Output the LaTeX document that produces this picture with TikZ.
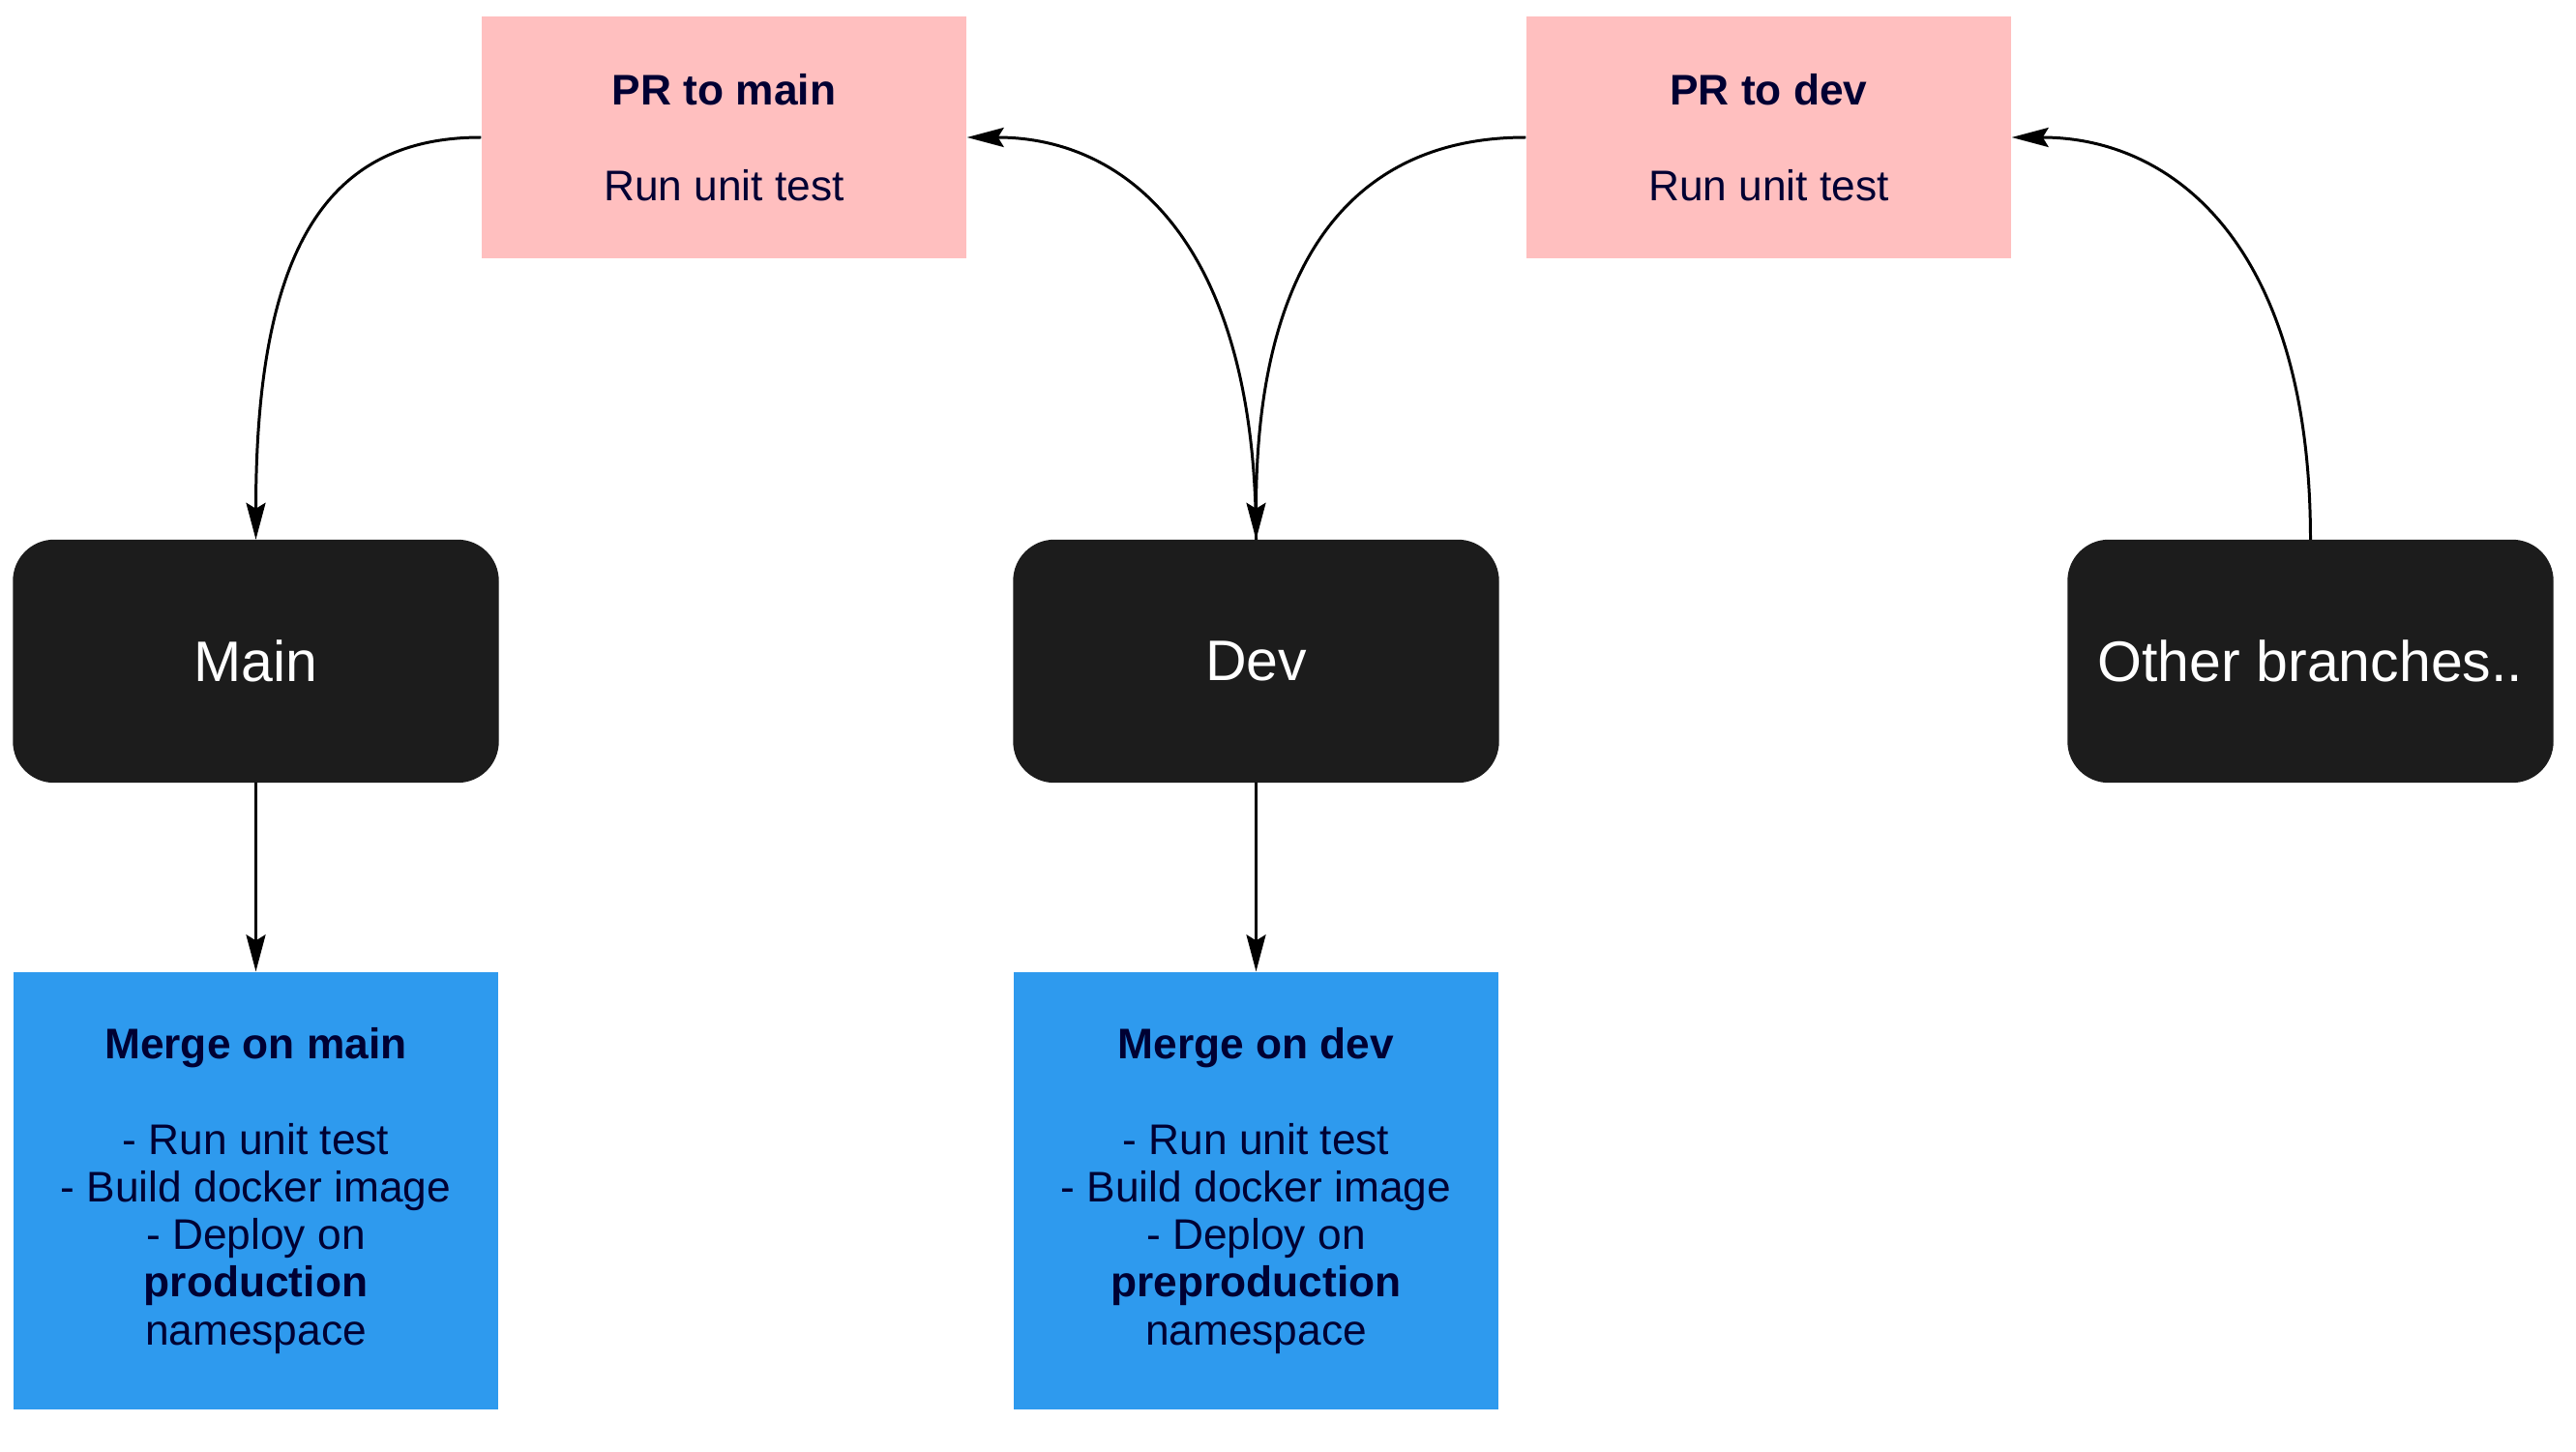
\documentclass[tikz,border=0pt]{standalone}
\usepackage{fontspec}
\setmainfont{Liberation Sans}
\usepackage{xcolor}
\usepackage{tikz}
\usetikzlibrary{shapes,arrows,positioning,calc,arrows.meta}

\definecolor{prpink}{HTML}{FFBFBF}
\definecolor{mergeblue}{HTML}{2E9AEE}
\definecolor{branchblack}{HTML}{1C1C1C}
\definecolor{navytext}{HTML}{000033}

\tikzset{
    prbox/.style={fill=prpink, text=navytext, minimum width=5.01cm, minimum height=2.5cm, inner sep=0pt, align=center, font=\fontsize{12.6}{14}\selectfont},
    branch/.style={fill=branchblack, draw=branchblack, rounded corners=0.42cm, text=white, minimum width=5.01cm, minimum height=2.5cm, inner sep=0pt, font=\fontsize{16.8}{20}\selectfont},
    mergebox/.style={fill=mergeblue, text=navytext, minimum width=5.01cm, minimum height=4.52cm, inner sep=0pt, align=center, font=\fontsize{12.6}{14}\selectfont},
    flow/.style={-{Stealth[length=3.8mm, width=2mm, inset=0.6mm]}, line width=0.85pt}
}

\begin{document}
\begin{tikzpicture}
    \useasboundingbox (0,0) rectangle (26.63,-15.01);

    % PR boxes
    \node[prbox] (prmain) at (7.485,-1.42) {\textbf{PR to main}\\[14pt]Run unit test};
    \node[prbox] (prdev) at (18.285,-1.42) {\textbf{PR to dev}\\[14pt]Run unit test};

    % Branches
    \node[branch] (main) at (2.645,-6.835) {Main};
    \node[branch] (dev) at (12.985,-6.835) {Dev};
    \node[branch] (other) at (23.885,-6.835) {Other branches..};

    % Merge jobs
    \node[mergebox] (mergemain) at (2.645,-12.31) {\textbf{Merge on main}\\[14pt]- Run unit test\\- Build docker image\\- Deploy on\\\textbf{production}\\namespace};
    \node[mergebox] (mergedev) at (12.985,-12.31) {\textbf{Merge on dev}\\[14pt]- Run unit test\\- Build docker image\\- Deploy on\\\textbf{preproduction}\\namespace};

    % Pull requests
    \draw[flow] (prmain.west) .. controls +(-1.6,0) and +(0,3) .. (main.north);
    \draw[flow] (dev.north) .. controls +(0,3) and +(1.7,0) .. (prmain.east);
    \draw[flow] (prdev.west) .. controls +(-1.7,0) and +(0,3) .. (dev.north);
    \draw[flow] (other.north) .. controls +(0,3) and +(1.7,0) .. (prdev.east);

    % Merges
    \draw[flow] (main) -- (mergemain);
    \draw[flow] (dev) -- (mergedev);
\end{tikzpicture}
\end{document}
